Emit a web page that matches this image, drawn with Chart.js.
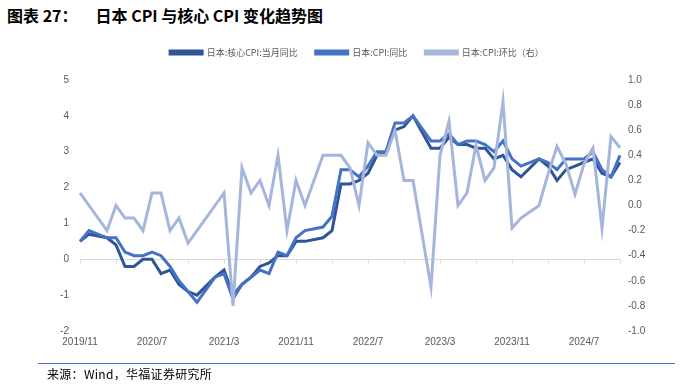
<!DOCTYPE html>
<html>
<head>
<meta charset="utf-8">
<script src="https://cdn.jsdelivr.net/npm/chart.js@4"></script>
<style>
body { margin: 0; background: #fff; }
#wrap { position: relative; width: 688px; height: 388px; overflow: hidden; }
#title { position: absolute; left: 7px; top: 3px; font: bold 16px "Noto Sans CJK SC", sans-serif; color: #000; white-space: nowrap; }
#title span { margin-left: 18px; }
#src { position: absolute; left: 38px; width: 637px; top: 363px; border-top: 1px solid #4472c4; font: 12px "Noto Sans CJK SC", sans-serif; color: #000; padding: 1px 0 0 9px; box-sizing: border-box; letter-spacing: 0.3px; }
canvas { position: absolute; left: 0; top: 0; }
</style>
</head>
<body>
<div id="wrap">
  <div id="title">图表 27：<span>日本 CPI 与核心 CPI 变化趋势图</span></div>
  <canvas id="myChart" width="688" height="388"></canvas>
  <div id="src">来源：Wind，华福证券研究所</div>
</div>
<script>
// months 2019/11 - 2024/11, January values are missing in the source
var labels = [
  '2019/11','2019/12','2020/1','2020/2','2020/3','2020/4','2020/5','2020/6','2020/7','2020/8','2020/9','2020/10','2020/11','2020/12',
  '2021/1','2021/2','2021/3','2021/4','2021/5','2021/6','2021/7','2021/8','2021/9','2021/10','2021/11','2021/12',
  '2022/1','2022/2','2022/3','2022/4','2022/5','2022/6','2022/7','2022/8','2022/9','2022/10','2022/11','2022/12',
  '2023/1','2023/2','2023/3','2023/4','2023/5','2023/6','2023/7','2023/8','2023/9','2023/10','2023/11','2023/12',
  '2024/1','2024/2','2024/3','2024/4','2024/5','2024/6','2024/7','2024/8','2024/9','2024/10','2024/11'
];
var coreYoY = [
  0.5, 0.7, null, 0.6, 0.4, -0.2, -0.2, 0.0, 0.0, -0.4, -0.3, -0.7, -0.9, -1.0,
  null, -0.5, -0.3, -1.0, -0.7, -0.5, -0.2, -0.1, 0.1, 0.1, 0.5, 0.5,
  null, 0.6, 0.8, 2.1, 2.1, 2.2, 2.4, 2.9, 3.0, 3.6, 3.7, 4.0,
  null, 3.1, 3.1, 3.4, 3.2, 3.2, 3.1, 3.1, 2.8, 2.9, 2.5, 2.3,
  null, 2.8, 2.6, 2.2, 2.5, 2.6, 2.7, 2.8, 2.4, 2.3, 2.7
];
var cpiYoY = [
  0.5, 0.8, null, 0.6, 0.6, 0.2, 0.1, 0.1, 0.2, 0.1, -0.2, -0.6, -0.9, -1.2,
  null, -0.5, -0.4, -1.1, -0.7, -0.5, -0.3, -0.4, 0.2, 0.1, 0.6, 0.8,
  null, 0.9, 1.2, 2.5, 2.5, 2.3, 2.6, 3.0, 3.0, 3.8, 3.8, 4.0,
  null, 3.3, 3.3, 3.5, 3.2, 3.3, 3.3, 3.2, 3.0, 3.3, 2.8, 2.6,
  null, 2.8, 2.7, 2.5, 2.8, 2.8, 2.8, 3.0, 2.5, 2.3, 2.9
];
var cpiMoM = [
  0.1, 0.0, null, -0.2, 0.0, -0.1, -0.1, -0.2, 0.1, 0.1, -0.2, -0.1, -0.3, -0.2,
  null, 0.0, 0.1, -0.8, 0.3, 0.1, 0.2, 0.0, 0.4, -0.2, 0.2, 0.0,
  null, 0.4, 0.4, 0.4, 0.3, 0.0, 0.5, 0.4, 0.4, 0.6, 0.2, 0.2,
  null, -0.65, 0.4, 0.67, 0.0, 0.1, 0.48, 0.2, 0.3, 0.83, -0.18, -0.1,
  null, 0.0, 0.25, 0.47, 0.33, 0.09, 0.33, 0.46, -0.18, 0.55, 0.46
];
var leftTicks = { min: -2, max: 5, step: 1 };
var rightTicks = { min: -1, max: 1, step: 0.2 };

var gray = '#595959';
var font = '"Liberation Sans", Arial, sans-serif';

// zero line with small tick marks every 4 months
var zeroLine = {
  id: 'zeroLine',
  beforeDatasetsDraw: function(chart) {
    var ctx = chart.ctx, area = chart.chartArea;
    var y0 = Math.round(chart.scales.y.getPixelForValue(0)) + 0.5;
    ctx.save();
    ctx.strokeStyle = '#d9d9d9';
    ctx.lineWidth = 1;
    ctx.beginPath();
    ctx.moveTo(area.left, y0);
    ctx.lineTo(area.right, y0);
    for (var i = 0; i < labels.length; i += 4) {
      var x = Math.round(chart.scales.x.getPixelForValue(i)) + 0.5;
      ctx.moveTo(x, y0);
      ctx.lineTo(x, y0 + 4);
    }
    ctx.stroke();
    ctx.restore();
  }
};

var legendSpace = {
  id: 'legendSpace',
  beforeInit: function(chart) {
    var fit = chart.legend.fit;
    chart.legend.fit = function() {
      fit.bind(chart.legend)();
      this.height = 50;
    };
  }
};

var ctx = document.getElementById('myChart').getContext('2d');
var myChart = new Chart(ctx, {
  type: 'line',
  data: {
    labels: labels,
    datasets: [
      {
        label: '日本:核心CPI:当月同比',
        data: coreYoY,
        yAxisID: 'y',
        borderColor: '#2f5597',
        backgroundColor: '#2f5597',
        order: 2
      },
      {
        label: '日本:CPI:同比',
        data: cpiYoY,
        yAxisID: 'y',
        borderColor: '#4472c4',
        backgroundColor: '#4472c4',
        order: 1
      },
      {
        label: '日本:CPI:环比（右）',
        data: cpiMoM,
        yAxisID: 'y1',
        borderColor: '#a6b5dc',
        backgroundColor: '#a6b5dc',
        order: 0
      }
    ]
  },
  options: {
    responsive: false,
    animation: false,
    spanGaps: true,
    layout: { padding: { top: 30, left: 26, right: 0, bottom: 0 } },
    elements: {
      point: { radius: 0 },
      line: { borderWidth: 3, tension: 0 }
    },
    plugins: {
      tooltip: { enabled: false },
      legend: {
        position: 'top',
        labels: {
          boxWidth: 32,
          boxHeight: 3,
          padding: 18,
          color: gray,
          font: { family: '"Noto Sans CJK SC", sans-serif', size: 9 },
          sort: function(a, b) { return a.datasetIndex - b.datasetIndex; }
        }
      }
    },
    scales: {
      x: {
        type: 'category',
        offset: false,
        grid: { display: false, drawTicks: false },
        border: { display: false },
        afterFit: function(s) { s.height = 57; },
        ticks: {
          autoSkip: false,
          maxRotation: 0,
          padding: 5,
          color: gray,
          font: { family: font, size: 10 },
          callback: function(v, i) { return i % 8 === 0 ? labels[i] : ''; }
        }
      },
      y: {
        position: 'left',
        min: leftTicks.min,
        max: leftTicks.max,
        grid: { display: false, drawTicks: false },
        border: { display: false },
        afterFit: function(s) { s.width = 54; },
        ticks: {
          stepSize: leftTicks.step,
          padding: 11,
          color: gray,
          font: { family: font, size: 10 }
        }
      },
      y1: {
        position: 'right',
        min: rightTicks.min,
        max: rightTicks.max,
        grid: { display: false, drawTicks: false },
        border: { display: false },
        afterFit: function(s) { s.width = 68; },
        ticks: {
          stepSize: rightTicks.step,
          padding: 8,
          color: gray,
          font: { family: font, size: 10 },
          callback: function(v) { return Math.abs(v) < 1e-9 ? '0.0' : v.toFixed(1); }
        }
      }
    }
  },
  plugins: [zeroLine, legendSpace]
});
</script>
</body>
</html>
